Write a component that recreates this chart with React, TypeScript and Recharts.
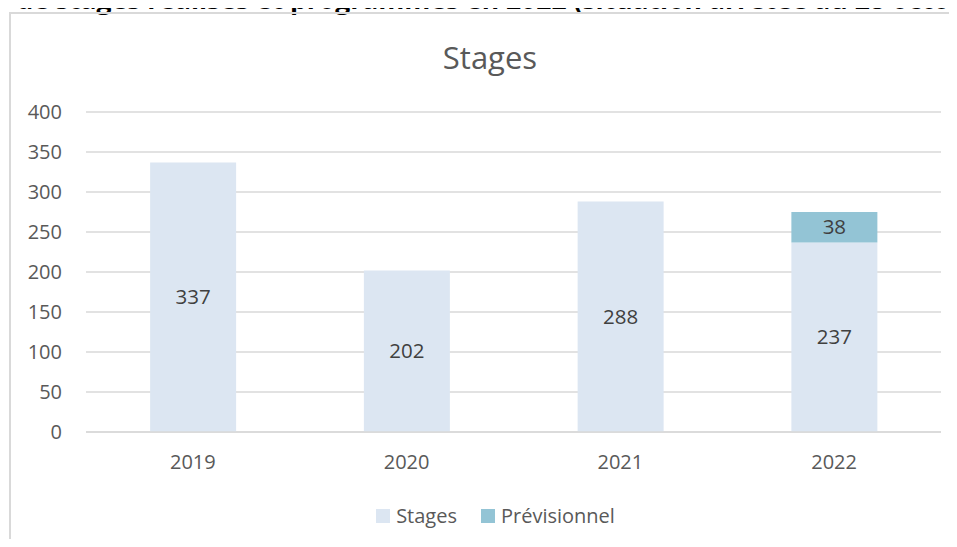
import { BarChart, Bar, XAxis, YAxis, CartesianGrid, Legend, LabelList } from "recharts";

const years = ["2019", "2020", "2021", "2022"];
const stages = [337, 202, 288, 237];
const previsionnel = [0, 0, 0, 38];
const yTicks = [0, 50, 100, 150, 200, 250, 300, 350, 400];
const seriesOrder = ["Stages", "Prévisionnel"];

const data = years.map((year, i) => ({
	year,
	stages: stages[i],
	previsionnel: previsionnel[i],
}));

const FONT = "'Open Sans', sans-serif";

const hideZero = (v: any) => (v ? v : "");

const renderLegend = (props: any) => {
	const payload = [...(props.payload || [])].sort(
		(a: any, b: any) => seriesOrder.indexOf(a.value) - seriesOrder.indexOf(b.value)
	);
	return (
		<div style={{ display: "flex", justifyContent: "center", gap: 24, fontFamily: FONT, fontSize: 20, color: "#595959" }}>
			{payload.map((entry: any) => (
				<div key={entry.value} style={{ display: "flex", alignItems: "center", gap: 6 }}>
					<span style={{ width: 14, height: 14, background: entry.color, display: "inline-block" }} />
					<span>{entry.value}</span>
				</div>
			))}
		</div>
	);
};

const App = () => {
	return (
		<div style={{ position: "relative", width: 957, height: 547, margin: -8, overflow: "hidden", background: "#fff" }}>
			<div
				style={{
					position: "absolute",
					left: -6,
					top: -14,
					lineHeight: "26.5px",
					whiteSpace: "nowrap",
					fontFamily: FONT,
					fontWeight: "bold",
					fontSize: 26.5,
					color: "#000",
				}}
			>
				e de stages réalisés et programmés en 2022 (situation arrêtée au 28 octobre 2022)
			</div>
			<div
				style={{
					position: "absolute",
					left: 9,
					top: 12,
					width: 1000,
					height: 1000,
					border: "2px solid #d9d9d9",
				}}
			/>
			<div
				style={{
					position: "absolute",
					left: 0,
					width: 980,
					top: 36,
					textAlign: "center",
					fontFamily: FONT,
					fontSize: 31,
					color: "#595959",
				}}
			>
				Stages
			</div>
			<div style={{ position: "absolute", left: 0, top: 0 }}>
				<BarChart
					width={957}
					height={547}
					data={data}
					barCategoryGap="30%"
					margin={{ top: 112, right: 16, bottom: 85, left: 0 }}
					style={{ fontFamily: FONT }}
				>
					<CartesianGrid vertical={false} stroke="#d9d9d9" strokeWidth={1.5} />
					<XAxis
						dataKey="year"
						height={30}
						tickLine={false}
						tickSize={0}
						tickMargin={23}
						axisLine={{ stroke: "#d9d9d9", strokeWidth: 1.5 }}
						tick={{ fill: "#595959", fontSize: 20 }}
					/>
					<YAxis
						width={86}
						domain={[0, 400]}
						ticks={yTicks}
						axisLine={false}
						tickLine={false}
						tickSize={0}
						tickMargin={24}
						tick={{ fill: "#595959", fontSize: 20 }}
					/>
					<Legend
						layout="horizontal"
						verticalAlign="middle"
						align="center"
						wrapperStyle={{ left: 17, top: 502, width: 957 }}
						content={renderLegend}
					/>
					<Bar dataKey="stages" name="Stages" stackId="a" fill="#dce6f2" isAnimationActive={false}>
						<LabelList dataKey="stages" position="center" fill="#404040" fontSize={20.5} formatter={hideZero} />
					</Bar>
					<Bar dataKey="previsionnel" name="Prévisionnel" stackId="a" fill="#93c4d5" isAnimationActive={false}>
						<LabelList dataKey="previsionnel" position="center" fill="#404040" fontSize={20.5} formatter={hideZero} />
					</Bar>
				</BarChart>
			</div>
		</div>
	);
};

export default App;
